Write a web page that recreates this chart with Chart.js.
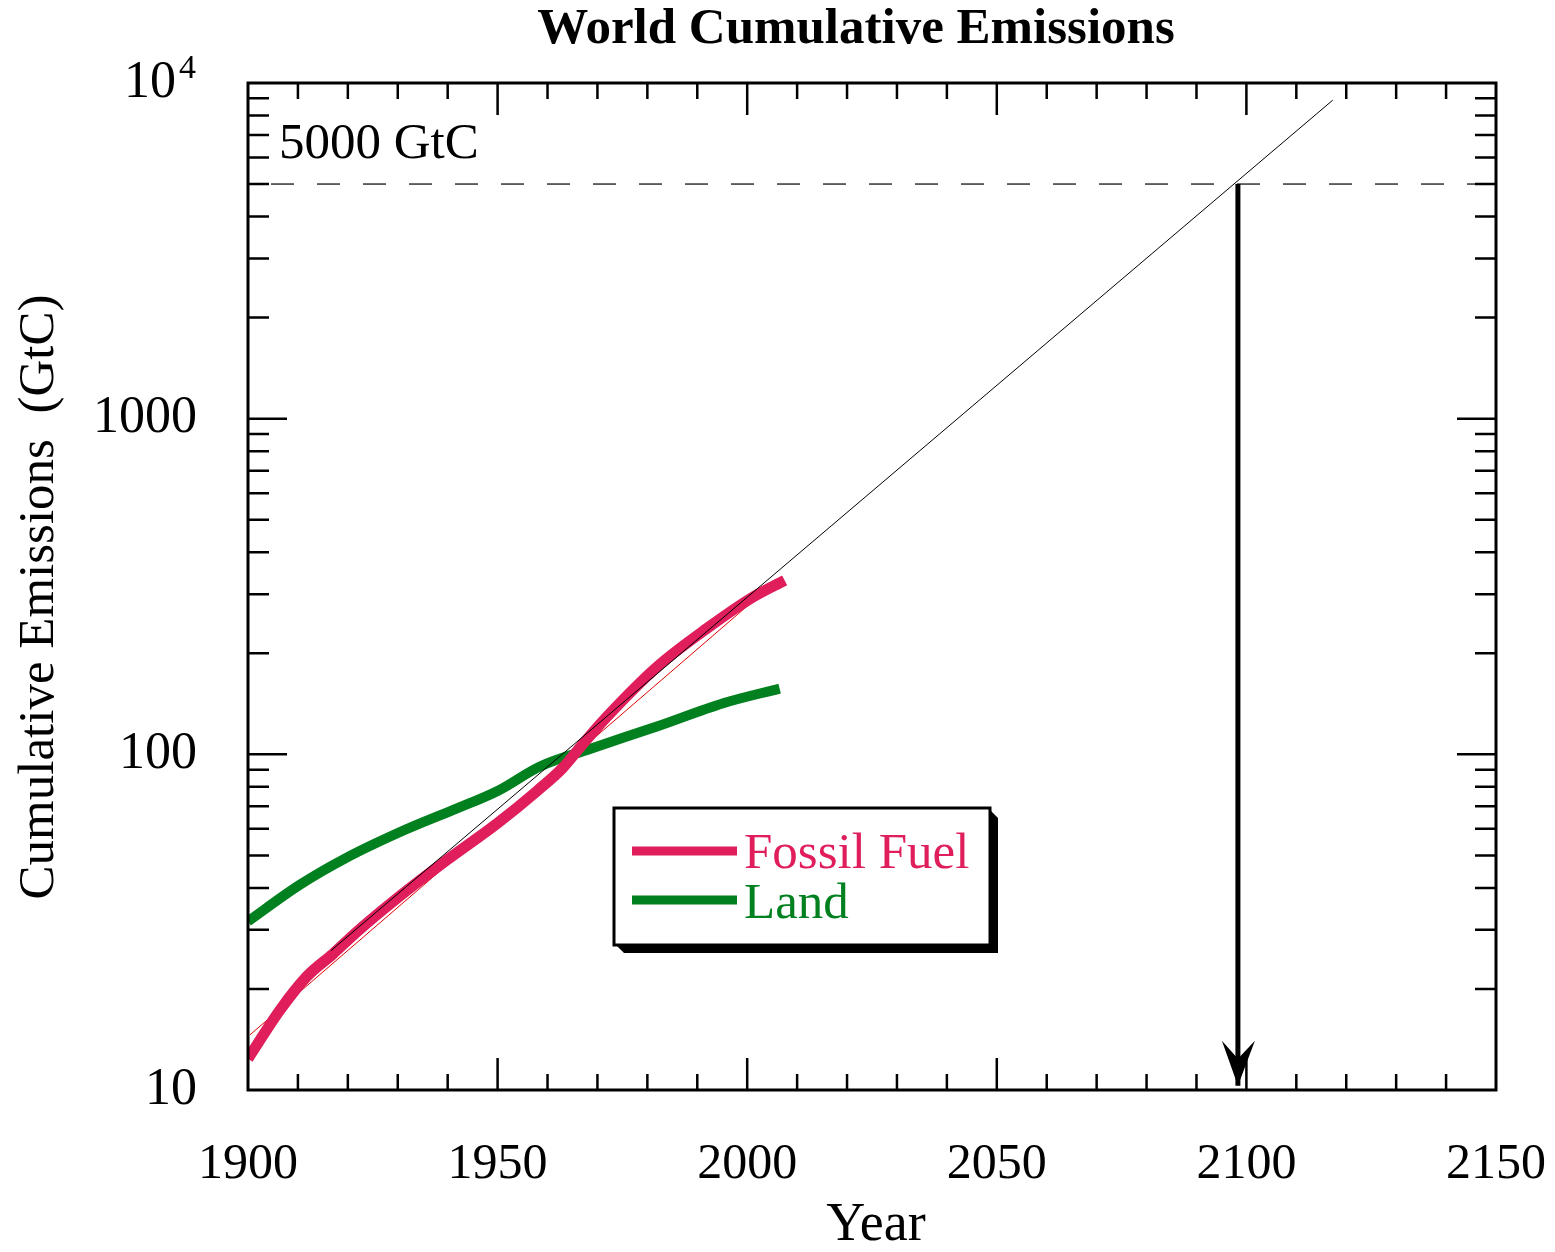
<!DOCTYPE html>
<html>
<head>
<meta charset="utf-8">
<script src="https://cdn.jsdelivr.net/npm/chart.js@4.4.0/dist/chart.umd.min.js"></script>
<style>
  html, body { margin: 0; padding: 0; background: #fff; }
  #wrap { width: 1555px; height: 1252px; }
</style>
</head>
<body>
<div id="wrap"><canvas id="grafica" width="1555" height="1252"></canvas></div>
<script>
var ctx = document.getElementById("grafica").getContext('2d');

// values
var fossilYears = [1900, 1906.4, 1911.8, 1917.1, 1921.8, 1929.8, 1939.8, 1950, 1958, 1963, 1967, 1971.8, 1981.9, 1991.9, 2001.3, 2007.5];
var fossilValues = [12.4, 17.3, 21.8, 25.5, 29.6, 37.2, 48.4, 62.4, 78, 91, 107, 129, 182, 237, 295, 330];

var landYears = [1900, 1910.3, 1919.5, 1931.7, 1941, 1950, 1958.5, 1968.5, 1981.9, 1995.2, 2006.5];
var landValues = [31.8, 40.8, 49, 59.8, 68.2, 77.8, 92, 103.8, 121, 142, 157];

var fitYears = [1916.6, 2117.3];
var fitValues = [26, 8890];
var redFitYears = [1900.4, 2006];
var redFitValues = [14.6, 330];

var limitYears = [1900, 2150];
var limitValues = [5000, 5000];
var arrowYears = [2098.3, 2098.3];
var arrowValues = [5000, 10.3];

var xTickLabels = [1900, 1950, 2000, 2050, 2100, 2150];
var yTickLabels = [10, 100, 1000, 10000];

var pink = "#df1e5b";
var green = "#00801f";
var serif = "'Liberation Serif', 'Times New Roman', serif";

function pts(xs, ys) {
    var out = [];
    for (var i = 0; i < xs.length; i++) out.push({x: xs[i], y: ys[i]});
    return out;
}

var framePlugin = {
    id: 'frame',
    afterDatasetsDraw: function(chart) {
        var c = chart.ctx;
        var xs = chart.scales.x, ys = chart.scales.y;
        var a = chart.chartArea;
        c.save();
        c.strokeStyle = '#000';
        c.fillStyle = '#000';

        // arrow head
        var ax = xs.getPixelForValue(arrowYears[1]);
        var ay = ys.getPixelForValue(arrowValues[1]);
        c.beginPath();
        c.moveTo(ax, ay);
        c.lineTo(ax - 16, ay - 45);
        c.lineTo(ax, ay - 27);
        c.lineTo(ax + 17, ay - 45);
        c.closePath();
        c.fill();

        // ticks
        c.lineWidth = 2.5;
        for (var yr = 1910; yr < 2150; yr += 10) {
            var px = xs.getPixelForValue(yr);
            var len = (yr % 50 == 0) ? 32 : 16;
            c.beginPath();
            c.moveTo(px, a.bottom); c.lineTo(px, a.bottom - len);
            c.moveTo(px, a.top); c.lineTo(px, a.top + len);
            c.stroke();
        }
        for (var d = 10; d < 10000; d *= 10) {
            for (var m = 1; m < 10; m++) {
                var v = d * m;
                if (v <= 10) continue;
                var py = ys.getPixelForValue(v);
                var l = (m == 1) ? 39 : 21;
                c.beginPath();
                c.moveTo(a.left, py); c.lineTo(a.left + l, py);
                c.moveTo(a.right, py); c.lineTo(a.right - l, py);
                c.stroke();
            }
        }
        // frame
        c.lineWidth = 3;
        c.strokeRect(a.left, a.top, a.right - a.left, a.bottom - a.top);

        // tick labels
        c.font = '50px ' + serif;
        c.textAlign = 'center';
        c.textBaseline = 'middle';
        xTickLabels.forEach(function(t) {
            c.fillText(String(t), xs.getPixelForValue(t), 1165);
        });
        c.textAlign = 'right';
        c.font = '52px ' + serif;
        yTickLabels.forEach(function(t) {
            var py = ys.getPixelForValue(t);
            if (t == 10000) {
                c.fillText('10', 176, py);
                c.font = '34px ' + serif;
                c.textAlign = 'left';
                c.fillText('4', 179, py - 14);
                c.font = '52px ' + serif;
                c.textAlign = 'right';
            } else {
                c.fillText(String(t), 197, py);
            }
        });

        // titles
        c.textAlign = 'center';
        c.font = 'bold 51px ' + serif;
        c.fillText('World Cumulative Emissions', 856, 30);
        c.font = '54px ' + serif;
        c.fillText('Year', 876, 1226);
        c.save();
        c.translate(40, 597);
        c.rotate(-Math.PI / 2);
        c.font = '51px ' + serif;
        c.fillText('Cumulative Emissions  (GtC)', 0, 0);
        c.restore();

        c.textAlign = 'left';
        c.font = '51px ' + serif;
        c.fillText('5000 GtC', 279, 145);

        // legend box with shadow
        var bx = 614, by = 808, bw = 376, bh = 137;
        c.beginPath();
        c.moveTo(bx + bw, by + 2);
        c.lineTo(bx + bw + 8, by + 10);
        c.lineTo(bx + bw + 8, by + bh + 8);
        c.lineTo(bx + 10, by + bh + 8);
        c.lineTo(bx + 2, by + bh);
        c.closePath();
        c.fill();
        c.fillStyle = '#fff';
        c.fillRect(bx, by, bw, bh);
        c.lineWidth = 3;
        c.strokeRect(bx, by, bw, bh);

        c.lineWidth = 9;
        c.strokeStyle = pink;
        c.beginPath(); c.moveTo(632, 851); c.lineTo(737, 851); c.stroke();
        c.strokeStyle = green;
        c.beginPath(); c.moveTo(632, 900); c.lineTo(737, 900); c.stroke();
        c.font = '51px ' + serif;
        c.fillStyle = pink;
        c.fillText('Fossil Fuel', 744, 855);
        c.fillStyle = green;
        c.fillText('Land', 744, 905);
        c.restore();
    }
};

var myChart = new Chart(ctx, {
    type: 'line',
    data: {
        datasets: [{
            label: 'Black fit',
            data: pts(fitYears, fitValues),
            borderColor: '#000',
            borderWidth: 1,
            order: 1
        }, {
            label: 'Fossil Fuel',
            data: pts(fossilYears, fossilValues),
            borderColor: pink,
            borderWidth: 11,
            borderCapStyle: 'butt',
            cubicInterpolationMode: 'monotone',
            order: 2
        }, {
            label: 'Red fit',
            data: pts(redFitYears, redFitValues),
            borderColor: '#e00000',
            borderWidth: 1,
            order: 3
        }, {
            label: 'Land',
            data: pts(landYears, landValues),
            borderColor: green,
            borderWidth: 10,
            borderCapStyle: 'butt',
            cubicInterpolationMode: 'monotone',
            order: 4
        }, {
            label: '5000 GtC',
            data: pts(limitYears, limitValues),
            borderColor: '#000',
            borderWidth: 1.2,
            borderDash: [23, 23],
            borderDashOffset: 23,
            order: 5
        }, {
            label: 'Arrow',
            data: pts(arrowYears, arrowValues),
            borderColor: '#000',
            borderWidth: 5,
            borderCapStyle: 'butt',
            order: 0
        }]
    },
    options: {
        responsive: false,
        animation: false,
        elements: { point: { radius: 0 } },
        layout: { padding: { left: 248, right: 59, top: 83, bottom: 162 } },
        plugins: { legend: { display: false }, tooltip: { enabled: false } },
        scales: {
            x: { type: 'linear', min: 1900, max: 2150, display: false },
            y: { type: 'logarithmic', min: 10, max: 10000, display: false }
        }
    },
    plugins: [framePlugin]
});
</script>
</body>
</html>
